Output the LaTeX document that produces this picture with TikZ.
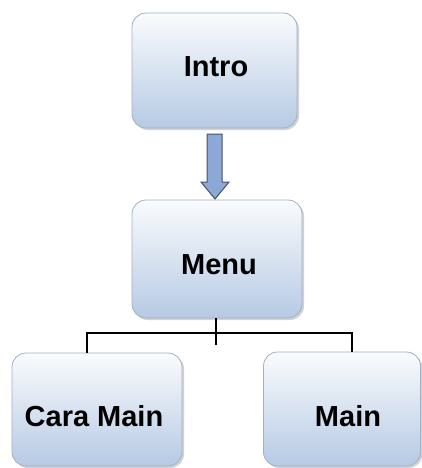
\documentclass[tikz,border=0pt]{standalone}
\usepackage{fontspec}
\setmainfont{Liberation Sans}
\usetikzlibrary{shadows}
\definecolor{boxtop}{RGB}{250,251,253}
\definecolor{boxbot}{RGB}{182,202,228}
\definecolor{boxline}{RGB}{160,176,198}
\definecolor{arrowfill}{RGB}{140,168,214}
\definecolor{arrowline}{RGB}{70,80,100}
\tikzset{
  menubox/.style={draw=boxline, line width=0.8pt, rounded corners=14pt,
    top color=boxtop, bottom color=boxbot,
    drop shadow={shadow xshift=2pt, shadow yshift=-2pt, fill=black!35, opacity=0.5},
    inner sep=0pt},
  boxtext/.style={font=\bfseries\fontsize{29}{30}\selectfont, inner sep=0pt},
  wire/.style={draw=black, line width=1.1pt},
}
\begin{document}
\begin{tikzpicture}[x=1pt, y=-1pt]
  \useasboundingbox (0,0) rectangle (422,468);

  % boxes
  \node[menubox, minimum width=165pt, minimum height=115pt] (intro) at (214.5,70.5) {};
  \node[menubox, minimum width=170pt, minimum height=118pt] (menu) at (217,259) {};
  \node[menubox, minimum width=170pt, minimum height=113pt] (cara) at (97,409.5) {};
  \node[menubox, minimum width=157pt, minimum height=114pt] (main) at (342,409) {};

  % labels
  \node[boxtext] (introtxt) at (216,67) {Intro};
  \node[boxtext] (menutxt) at (219,265) {Menu};
  \node[boxtext] (caratxt) at (94,416) {Cara Main};
  \node[boxtext] (maintxt) at (348,416) {Main};

  % block arrow from Intro down to Menu
  \coordinate (a0) at (intro.south -| 214.5,0);
  \draw[fill=arrowfill, draw=arrowline, line width=1pt, line join=miter]
    (207,134) -- (222,134) -- (222,182) -- (229,182) -- (215,199)
    -- (201,182) -- (207,182) -- cycle;

  % tree connector below Menu
  \coordinate (junc) at (216,333);
  \coordinate (tick) at (216,345);
  \draw[wire] (menu.south -| junc) -- (tick);
  \draw[wire] (cara.north -| 87,0) |- (junc) -| (main.north -| 352,0);
\end{tikzpicture}
\end{document}
